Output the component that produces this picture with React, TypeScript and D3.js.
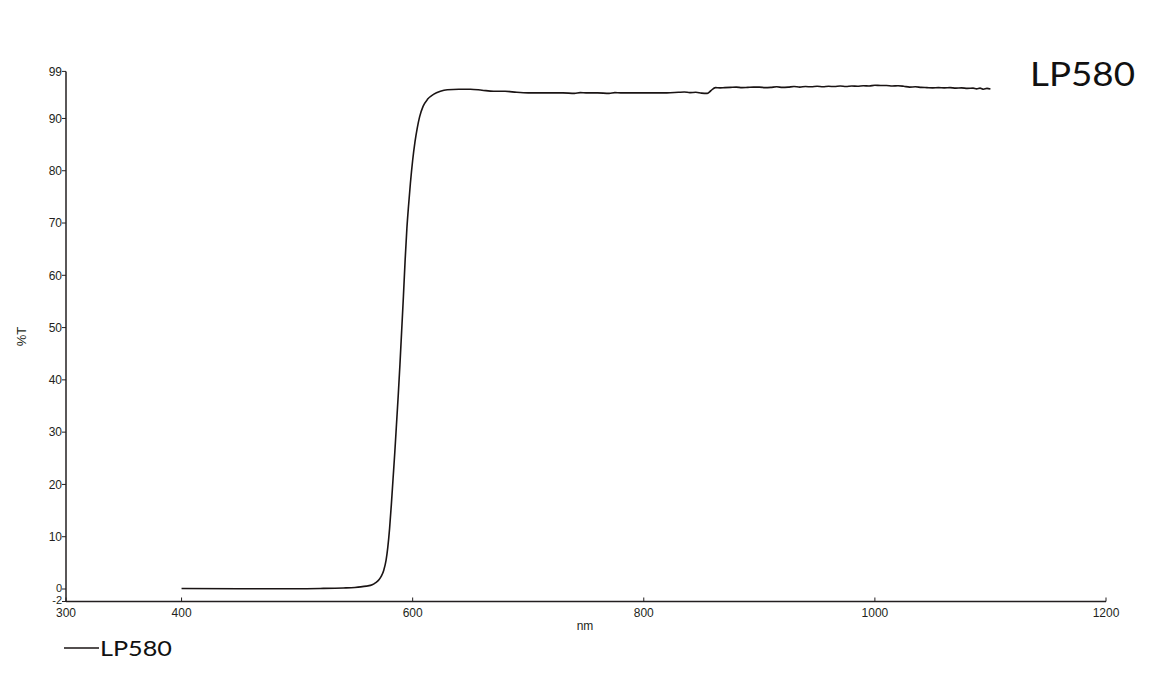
import * as d3 from 'd3'

// wavelength (nm) and transmission (%T)
const wavelengths = [
  400, 450, 500, 520, 540, 550, 555, 560, 565, 568, 571, 573, 575, 577, 578.5, 580, 581.5, 583, 584.5,
  586, 587.5, 589, 590.5, 592, 593.5, 595, 596.5, 598, 600, 602, 604, 606, 609, 613, 618, 624, 630,
  640, 650, 660, 670, 680, 690, 700, 710, 720, 730, 740, 745, 750, 760, 770, 775, 780, 790, 800,
  810, 820, 830, 835, 840, 845, 850, 855, 858, 862, 866, 870, 875, 880, 885, 890, 895, 900, 905,
  910, 915, 920, 925, 930, 935, 940, 945, 950, 955, 960, 965, 970, 975, 980, 985, 990, 995, 1000,
  1005, 1010, 1015, 1020, 1025, 1030, 1035, 1040, 1045, 1050, 1055, 1060, 1065, 1070, 1075, 1080,
  1085, 1088, 1091, 1094, 1097, 1100,
]
const transmission = [
  0.1, 0.05, 0.05, 0.1, 0.2, 0.3, 0.4, 0.55, 0.8, 1.2, 1.8, 2.5, 3.6, 5.5, 8, 11.5, 16, 21, 26,
  31.5, 37, 43, 49.5, 56, 63, 69, 73.5, 77.5, 82, 85.5, 88.2, 90.3, 92.3, 93.7, 94.6, 95.2, 95.5,
  95.6, 95.6, 95.4, 95.2, 95.2, 95.0, 94.9, 94.9, 94.9, 94.9, 94.8, 94.95, 94.9, 94.9, 94.8, 94.95,
  94.9, 94.9, 94.9, 94.9, 94.9, 95.0, 95.05, 94.95, 95.0, 94.85, 94.8, 95.3, 95.9, 95.85, 95.9, 95.95,
  96.0, 95.9, 95.95, 96.0, 96.0, 95.9, 95.95, 96.05, 95.95, 96.0, 96.1, 96.0, 96.1, 96.05, 96.15,
  96.05, 96.15, 96.1, 96.2, 96.1, 96.2, 96.15, 96.25, 96.2, 96.35, 96.3, 96.3, 96.2, 96.25, 96.15,
  96.0, 96.05, 95.95, 95.9, 95.85, 95.9, 95.85, 95.9, 95.8, 95.85, 95.75, 95.8, 95.65, 95.8, 95.6,
  95.75, 95.65,
]
const xTicks = [300, 400, 600, 800, 1000, 1200]
const yTicks = [-2, 0, 10, 20, 30, 40, 50, 60, 70, 80, 90, 99]
const seriesName = 'LP580'

const W = 1160
const H = 677
const axisFont = 'Liberation Sans, Arial, sans-serif'
const labelFont = 'Lato, "Open Sans", sans-serif'

export default function App() {
  const x = d3.scaleLinear().domain([300, 1200]).range([66, 1106])
  // the instrument squeezes the -2..0 band at the bottom of the axis
  const y = d3.scaleLinear().domain([-2, 0, 99]).range([601.5, 589, 71.4])

  const points: [number, number][] = wavelengths.map((w, i) => [w, transmission[i]])
  const line = d3
    .line<[number, number]>()
    .x((d) => x(d[0]))
    .y((d) => y(d[1]))
    .curve(d3.curveMonotoneX)

  const x0 = x(300)
  const yBase = y(-2)

  return (
    <svg width={W} height={H} style={{ position: 'absolute', left: 0, top: 0, background: '#fff' }}>
      {/* y axis */}
      <line x1={x0} x2={x0} y1={y(99)} y2={yBase} stroke="#231f20" strokeWidth={1.5} />
      {yTicks.map((t) => (
        <g key={'y' + t} transform={`translate(${x0},${y(t)})`}>
          <line x1={-4} x2={0} stroke="#231f20" strokeWidth={1} />
          <text
            x={-4}
            dy={t === -2 ? '0.2em' : t === 0 ? '0.25em' : '0.35em'}
            textAnchor="end"
            fontSize={t < 1 ? 11 : 12}
            fontFamily={axisFont}
            fill="#231f20"
          >
            {t}
          </text>
        </g>
      ))}
      {/* x axis */}
      <line x1={x0} x2={x(1200)} y1={yBase} y2={yBase} stroke="#231f20" strokeWidth={1.5} />
      {xTicks.map((t) => (
        <g key={'x' + t} transform={`translate(${x(t)},${yBase})`}>
          <line y1={-4} y2={0} stroke="#231f20" strokeWidth={1} />
          <text y={15} textAnchor="middle" fontSize={12} fontFamily={axisFont} fill="#231f20">
            {t}
          </text>
        </g>
      ))}
      <text x={585} y={630} textAnchor="middle" fontSize={12} fontFamily={axisFont} fill="#231f20">
        nm
      </text>
      <text
        transform={`translate(26,${(y(99) + yBase) / 2}) rotate(-90)`}
        textAnchor="middle"
        fontSize={13}
        fontFamily={axisFont}
        fill="#231f20"
      >
        %T
      </text>

      {/* data */}
      <path d={line(points) ?? ''} fill="none" stroke="#1a1414" strokeWidth={1.6} />

      {/* title */}
      <text
        x={1030}
        y={86}
        fontSize={32}
        fontFamily={labelFont}
        fill="#111"
        textLength={105}
        lengthAdjust="spacingAndGlyphs"
      >
        {seriesName}
      </text>

      {/* legend */}
      <line x1={64} x2={99} y1={648} y2={648} stroke="#1a1414" strokeWidth={1.6} />
      <text
        x={100}
        y={656}
        fontSize={21}
        fontFamily={labelFont}
        fill="#111"
        textLength={72}
        lengthAdjust="spacingAndGlyphs"
      >
        {seriesName}
      </text>
    </svg>
  )
}
